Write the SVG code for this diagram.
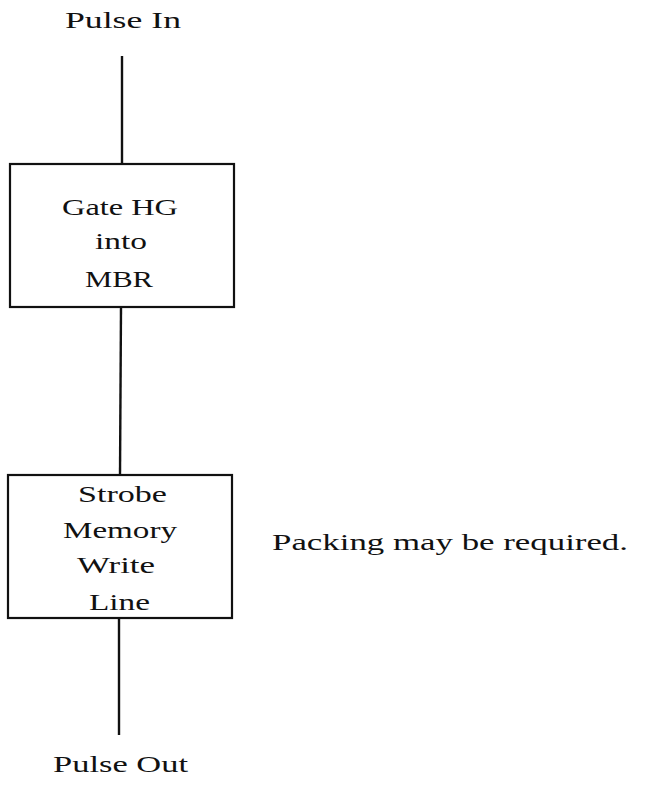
<svg xmlns="http://www.w3.org/2000/svg" width="653" height="786" viewBox="0 0 653 786">
<style>
text{font-family:"Liberation Serif","DejaVu Serif",serif;font-size:24px;fill:#111}
.box{fill:#fff;stroke:#111;stroke-width:2.2}
.conn{stroke:#111;stroke-width:2.4;fill:none}
</style>
<rect width="653" height="786" fill="#fff"/>
<g id="connectors">
<line class="conn" x1="122" y1="56" x2="122" y2="164"/>
<line class="conn" x1="121" y1="307" x2="120" y2="475"/>
<line class="conn" x1="119" y1="618" x2="119" y2="735"/>
</g>
<g id="pulse-in"><text x="65" y="28" textLength="116" lengthAdjust="spacingAndGlyphs">Pulse In</text></g>
<g id="gate">
<rect class="box" x="10" y="164" width="224" height="143"/>
<text x="62" y="215" textLength="116" lengthAdjust="spacingAndGlyphs">Gate HG</text>
<text x="95" y="249" textLength="52" lengthAdjust="spacingAndGlyphs">into</text>
<text x="85" y="287" textLength="68" lengthAdjust="spacingAndGlyphs">MBR</text>
</g>
<g id="strobe">
<rect class="box" x="8" y="475" width="224" height="143"/>
<text x="78" y="502" textLength="89" lengthAdjust="spacingAndGlyphs">Strobe</text>
<text x="63" y="538" textLength="114" lengthAdjust="spacingAndGlyphs">Memory</text>
<text x="77" y="573" textLength="78" lengthAdjust="spacingAndGlyphs">Write</text>
<text x="89" y="610" textLength="61" lengthAdjust="spacingAndGlyphs">Line</text>
</g>
<g id="note"><text x="272" y="550" textLength="356" lengthAdjust="spacingAndGlyphs">Packing may be required.</text></g>
<g id="pulse-out"><text x="53" y="772" textLength="135" lengthAdjust="spacingAndGlyphs">Pulse Out</text></g>
</svg>
